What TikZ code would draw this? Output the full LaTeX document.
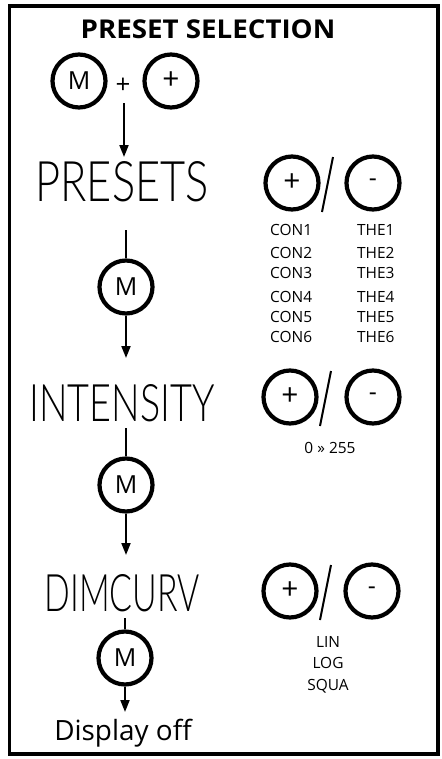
\documentclass[tikz,border=0pt]{standalone}
\usepackage{fontspec}
\setmainfont{Open Sans}
\newfontfamily\lcdfont{Lato Light}
\usepackage{graphicx}
\usetikzlibrary{arrows.meta}
\begin{document}
\begin{tikzpicture}[x=1bp,y=-1bp,
  btn/.style={circle,draw,line width=4.2bp,minimum size=53bp,inner sep=0pt,font=\fontsize{25}{25}\selectfont},
  pbtn/.style={btn,font=\fontsize{30}{30}\selectfont},
  lbl/.style={font=\fontsize{15.5}{16}\selectfont,inner sep=0pt,anchor=base},
  lblw/.style={font=\fontsize{15.5}{16}\selectfont,inner sep=0pt,anchor=base west},
  arr/.style={line width=1.8bp,-{Triangle[length=12bp,width=9bp]}},
  ln/.style={line width=1.8bp},
  slash/.style={line width=2bp},
  lcd/.style={inner sep=0pt}]
\useasboundingbox (0,0) rectangle (442,759);
\draw[line width=3.5bp] (9.5,6) rectangle (438,754);
\node[font=\bfseries\fontsize{26}{26}\selectfont,inner sep=0pt] (title) at (208,29) {\scalebox{1.07}[1]{PRESET SELECTION}};
% top
\node[btn] (m1) at (79,81) {M};
\node[pbtn] (p1) at (171,81) {+};
\node[font=\fontsize{26}{26}\selectfont,inner sep=0pt] (plus) at (123,86) {+};
\coordinate (s1) at (124,103);
\coordinate (t1) at (124,157);
\draw[arr] (s1) -- (t1);
% row 1
\node[lcd] (presets) at (122,182) {\resizebox{173bp}{40bp}{\lcdfont PRESETS}};
\node[pbtn] (p2) at (292,183) {+};
\node[btn] (n2) at (373,183) {-};
\coordinate (sl1a) at (333,157);
\coordinate (sl1b) at (322,212);
\draw[slash] (sl1a) -- (sl1b);
\node[lblw] (c1) at (270,235.5) {CON1};
\node[lblw] (c2) at (270,258.5) {CON2};
\node[lblw] (c3) at (270,278.5) {CON3};
\node[lblw] (c4) at (270,302.5) {CON4};
\node[lblw] (c5) at (270,322.5) {CON5};
\node[lblw] (c6) at (270,342.5) {CON6};
\node[lblw] (h1) at (357,235.5) {THE1};
\node[lblw] (h2) at (357,258.5) {THE2};
\node[lblw] (h3) at (357,278.5) {THE3};
\node[lblw] (h4) at (357,302.5) {THE4};
\node[lblw] (h5) at (357,322.5) {THE5};
\node[lblw] (h6) at (357,342.5) {THE6};
\node[btn] (m2) at (126,287) {M};
\coordinate (s2) at (126,230);
\coordinate (t2) at (126,358);
\draw[ln] (s2) -- (m2);
\draw[arr] (m2) -- (t2);
% row 2
\node[lcd] (intensity) at (122,403) {\resizebox{185bp}{37bp}{\lcdfont INTENSITY}};
\node[pbtn] (p3) at (290,397) {+};
\node[btn] (n3) at (373,397) {-};
\coordinate (sl2a) at (331,371);
\coordinate (sl2b) at (320,426);
\draw[slash] (sl2a) -- (sl2b);
\node[lbl] (range) at (330,453.5) {0 » 255};
\node[btn] (m3) at (126,485) {M};
\coordinate (s3) at (126,428);
\coordinate (t3) at (126,555);
\draw[ln] (s3) -- (m3);
\draw[arr] (m3) -- (t3);
% row 3
\node[lcd] (dimcurv) at (122,593) {\resizebox{155bp}{37bp}{\lcdfont DIMCURV}};
\node[pbtn] (p4) at (290,591) {+};
\node[btn] (n4) at (372,591) {-};
\coordinate (sl3a) at (331,565);
\coordinate (sl3b) at (320,620);
\draw[slash] (sl3a) -- (sl3b);
\node[lbl] (lin) at (328,647.5) {LIN};
\node[lbl] (log) at (328,668.5) {LOG};
\node[lbl] (squa) at (328,690.5) {SQUA};
\node[btn] (m4) at (125,658) {M};
\coordinate (s4) at (125,618);
\coordinate (t4) at (125,712);
\draw[ln] (s4) -- (m4);
\draw[arr] (m4) -- (t4);
\node[font=\fontsize{28}{28}\selectfont,inner sep=0pt,anchor=base] (off) at (123,740) {Display off};
\end{tikzpicture}
\end{document}
